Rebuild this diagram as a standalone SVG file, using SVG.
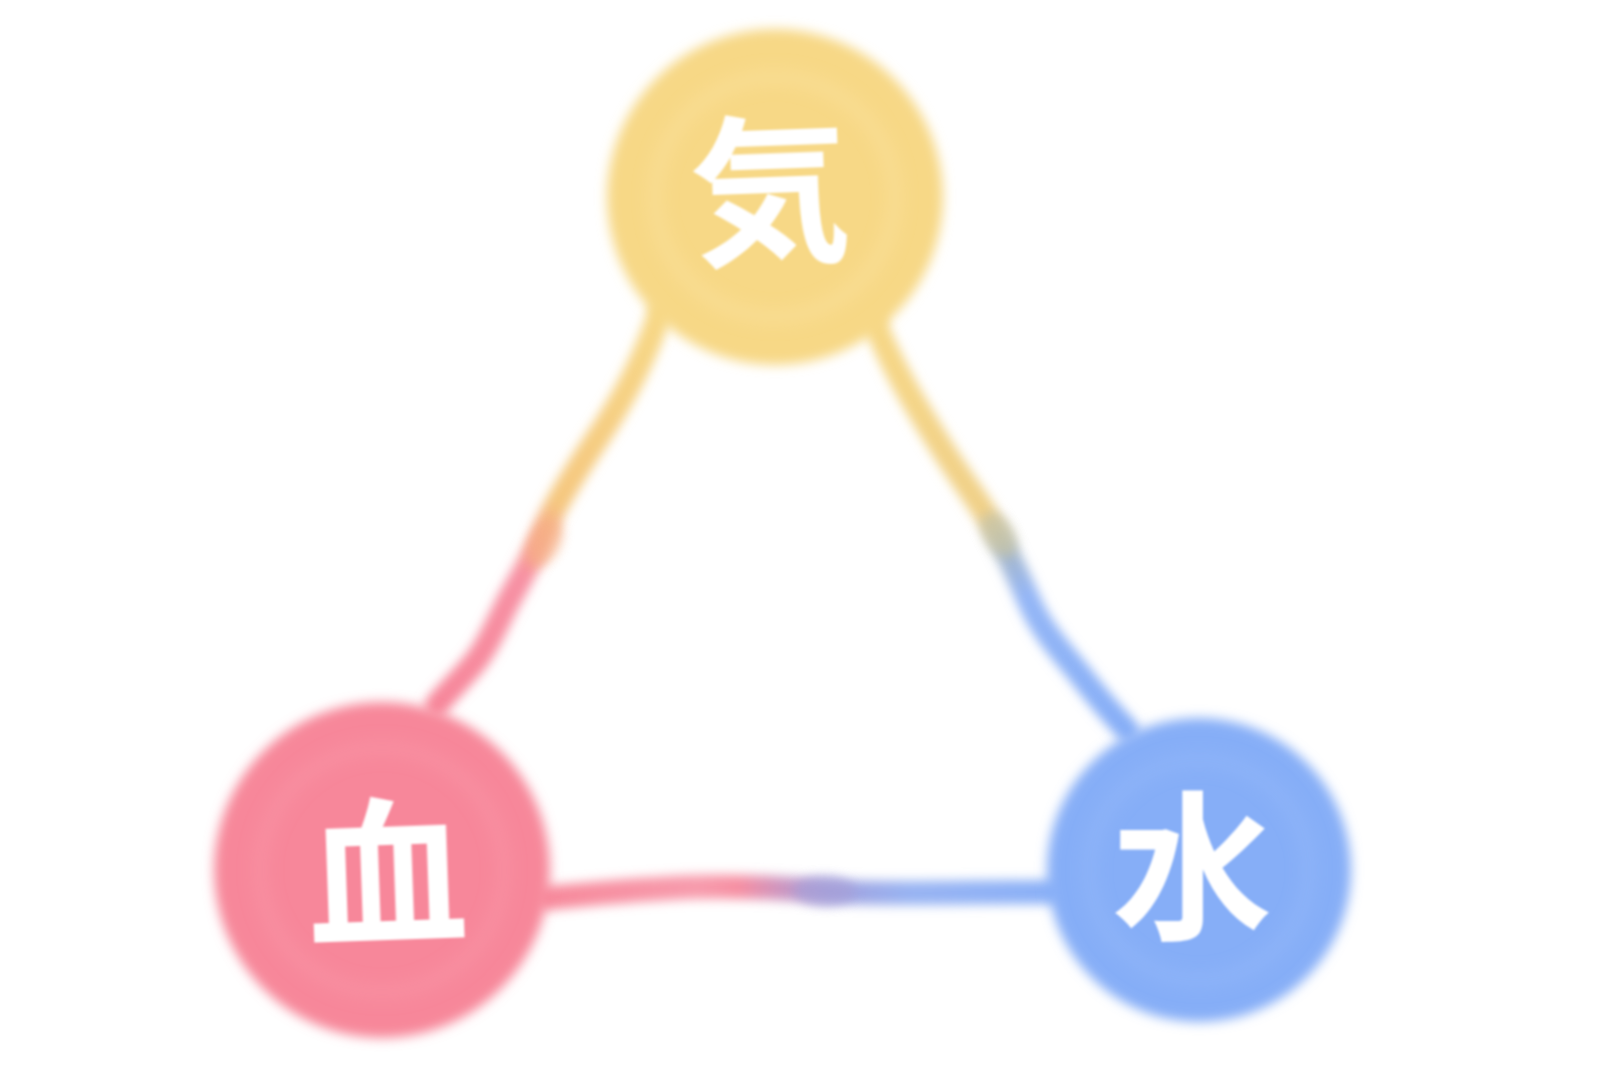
<svg xmlns="http://www.w3.org/2000/svg" width="1600" height="1080" viewBox="0 0 1600 1080">
  <defs>
    <filter id="soft" filterUnits="userSpaceOnUse" x="0" y="0" width="1600" height="1080">
      <feGaussianBlur stdDeviation="6"/>
    </filter>
    <filter id="edgeBlur" filterUnits="userSpaceOnUse" x="0" y="0" width="1600" height="1080">
      <feGaussianBlur stdDeviation="5.5"/>
    </filter>
    <filter id="softer" filterUnits="userSpaceOnUse" x="0" y="0" width="1600" height="1080">
      <feGaussianBlur stdDeviation="8"/>
    </filter>
    <filter id="txt" filterUnits="userSpaceOnUse" x="0" y="0" width="1600" height="1080">
      <feGaussianBlur stdDeviation="1"/>
    </filter>
    <linearGradient id="gKiKetsu" gradientUnits="userSpaceOnUse" x1="660" y1="312" x2="437" y2="705">
      <stop offset="0" stop-color="#F7D886"/>
      <stop offset="0.48" stop-color="#F5C77F"/>
      <stop offset="0.56" stop-color="#F7A88A"/>
      <stop offset="0.66" stop-color="#F790A3"/>
      <stop offset="1" stop-color="#F7869A"/>
    </linearGradient>
    <linearGradient id="gKiSui" gradientUnits="userSpaceOnUse" x1="870" y1="310" x2="1127" y2="730">
      <stop offset="0" stop-color="#F7D886"/>
      <stop offset="0.47" stop-color="#F0D088"/>
      <stop offset="0.56" stop-color="#A8B8C8"/>
      <stop offset="0.66" stop-color="#94B6F6"/>
      <stop offset="1" stop-color="#86AEF7"/>
    </linearGradient>
    <linearGradient id="gKetsuSui" gradientUnits="userSpaceOnUse" x1="548" y1="0" x2="1050" y2="0">
      <stop offset="0" stop-color="#F7899B"/>
      <stop offset="0.3" stop-color="#F79BAC"/>
      <stop offset="0.38" stop-color="#F68FA2"/>
      <stop offset="0.46" stop-color="#CF95BE"/>
      <stop offset="0.56" stop-color="#A2A0DC"/>
      <stop offset="0.72" stop-color="#98B3F2"/>
      <stop offset="1" stop-color="#8AB0F7"/>
    </linearGradient>
    <style>
      .edge { fill: none; stroke-width: 24; stroke-linecap: round; stroke-linejoin: round; filter: url(#edgeBlur); }
      .blob { filter: url(#edgeBlur); opacity: 0.65; }
      .ring { fill: none; stroke-width: 14; stroke-opacity: 0.35; filter: url(#softer); }
      .label { font-family: "Noto Sans CJK JP", "Noto Sans CJK SC", sans-serif; font-weight: 700; font-size: 160px; fill: #FFFFFF; text-anchor: middle; filter: url(#txt); }
    </style>
  </defs>
  <rect width="1600" height="1080" fill="#FFFFFF"/>

  <g id="connectors">
    <path class="edge" stroke="url(#gKiKetsu)" d="M660 312 C645 360 620 405 595 442 C570 480 552 510 543 533 C532 560 520 580 508 602 C495 628 485 652 470 668 C458 682 447 693 437 705"/>
    <ellipse class="blob" cx="545" cy="543" rx="15" ry="26" transform="rotate(28 545 543)" fill="#F6B185"/>
    <path class="edge" stroke="url(#gKiSui)" d="M870 310 C888 360 915 405 940 445 C965 485 985 510 997 533 C1010 558 1020 580 1030 603 C1042 630 1060 650 1078 672 C1095 694 1110 712 1127 730"/>
    <ellipse class="blob" cx="999" cy="535" rx="15" ry="24" transform="rotate(-32 999 535)" fill="#C9C6A6"/>
    <path class="edge" stroke="url(#gKetsuSui)" d="M548 898 C600 893 650 888 700 887 C740 886 780 888 820 891 C880 895 960 892 1050 892"/>
    <ellipse class="blob" cx="825" cy="891" rx="30" ry="15" fill="#A7A0D8"/>
  </g>

  <g id="node-ki">
    <circle cx="775" cy="197" r="168" fill="#F7D886" filter="url(#soft)"/>
    <circle class="ring" cx="775" cy="197" r="120" stroke="#FBE6A8"/>
    <text class="label" x="770" y="251" transform="rotate(-2 770 190)">気</text>
  </g>

  <g id="node-ketsu">
    <circle cx="382" cy="870" r="168" fill="#F7879A" filter="url(#soft)"/>
    <circle class="ring" cx="382" cy="870" r="122" stroke="#FA9DAD"/>
    <text class="label" x="387" y="933" transform="rotate(-2 387 872)">血</text>
  </g>

  <g id="node-sui">
    <circle cx="1199" cy="870" r="152" fill="#86AEF7" filter="url(#soft)"/>
    <circle class="ring" cx="1199" cy="870" r="110" stroke="#9CBDF8"/>
    <text class="label" x="1192" y="927">水</text>
  </g>
</svg>
